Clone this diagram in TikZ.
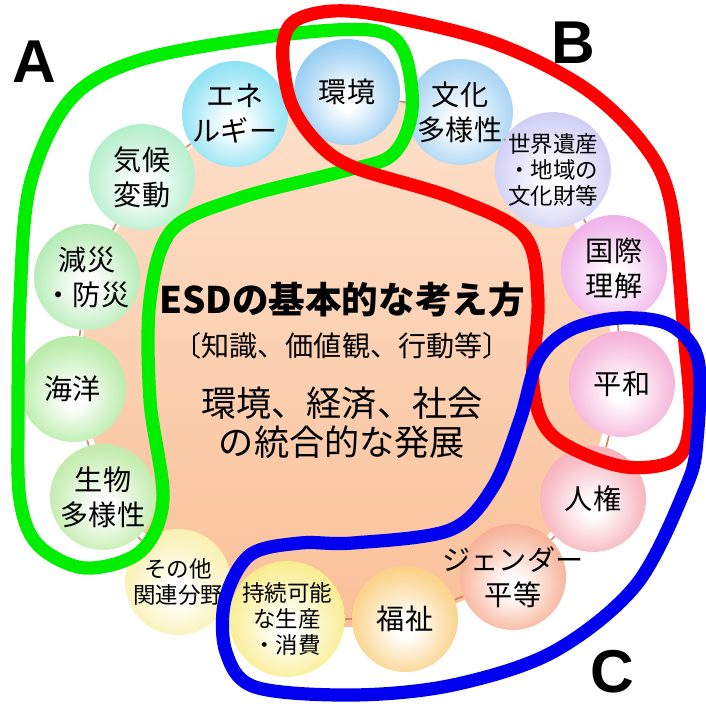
\documentclass[tikz,border=0pt]{standalone}
\usepackage{fontspec}
\setmainfont{Noto Sans CJK JP}
\newfontfamily\letterfont{Liberation Sans}
\usetikzlibrary{positioning}

\definecolor{peachtop}{HTML}{FDE0CA}
\definecolor{peachbot}{HTML}{FAC098}
\definecolor{ringcol}{HTML}{D08C68}
\definecolor{c_env}{HTML}{62B4EC}
\definecolor{c_culture}{HTML}{7CBEEE}
\definecolor{c_heritage}{HTML}{B8B8F0}
\definecolor{c_intl}{HTML}{E88CE0}
\definecolor{c_peace}{HTML}{F08CC4}
\definecolor{c_rights}{HTML}{F28C9A}
\definecolor{c_gender}{HTML}{F28C64}
\definecolor{c_welfare}{HTML}{F8BC4C}
\definecolor{c_sustain}{HTML}{F6E458}
\definecolor{c_other}{HTML}{F6EA8C}
\definecolor{c_bio}{HTML}{A4E284}
\definecolor{c_ocean}{HTML}{94E27C}
\definecolor{c_disaster}{HTML}{90E290}
\definecolor{c_climate}{HTML}{90E6B2}
\definecolor{c_energy}{HTML}{58D4EE}
\definecolor{loopgreen}{HTML}{00EE00}
\definecolor{loopred}{HTML}{FF0000}
\definecolor{loopblue}{HTML}{0000EE}

\colorlet{ballcol}{white}
\pgfdeclareradialshading[ballcol]{glow}{\pgfpoint{0bp}{-5bp}}{color(0bp)=(white); color(4bp)=(white); color(22bp)=(ballcol!55!white); color(40bp)=(ballcol); color(50bp)=(ballcol)}

\begin{document}
\begin{tikzpicture}[x=0.025cm,y=-0.025cm,on grid,
    field/.style={circle, minimum size=2.65cm, inner sep=0pt, align=center,
        /utils/exec={\colorlet{ballcol}{#1}}, shading=glow,
        font=\fontsize{20pt}{25pt}\selectfont},
    smallfield/.style={field=#1, font=\fontsize{16pt}{18.5pt}\selectfont},
    ring/.style={draw=ringcol, line width=1.2pt},
    bigline/.style={font=\fontsize{25pt}{28pt}\selectfont},
    letter/.style={font=\letterfont\bfseries\fontsize{43pt}{43pt}\selectfont},
    loop/.style={draw=#1, line width=0.33cm, line join=round}]
    \useasboundingbox (0,0) rectangle (706,704);

    % background disc
    \node[circle, minimum size=13.25cm, top color=peachtop, bottom color=peachbot] (disc) at (347,362) {};

    % fields around the disc
    \node[field=c_env] (env) at (347,92) {環境};
    \node[field=c_culture] (culture) at (460,112) {文化\\多様性};
    \node[smallfield=c_heritage] (heritage) at (553,170) {世界遺産\\・地域の\\文化財等};
    \node[field=c_intl] (intl) at (614,268) {国際\\理解};
    \node[field=c_peace] (peace) at (622,384) {平和};
    \node[field=c_rights] (rights) at (593,499) {人権};
    \node[field=c_gender] (gender) at (513,577) {\makebox[0pt]{ジェンダー}\\平等};
    \node[field=c_welfare] (welfare) at (405,619) {福祉};
    \node[smallfield=c_sustain] (sustain) at (287,619) {持続可能\\な生産\\・消費};
    \node[smallfield=c_other] (other) at (178,582) {その他\\\makebox[0pt]{関連分野}};
    \node[field=c_bio] (bio) at (103,497) {生物\\多様性};
    \node[field=c_ocean] (ocean) at (73,389) {海洋};
    \node[field=c_disaster] (disaster) at (87,277) {減災\\・防災};
    \node[field=c_climate] (climate) at (142,177) {気候\\変動};
    \node[field=c_energy] (energy) at (235,114) {エネ\\ルギー};

    \path[ring]
        (env) edge (culture)
        (culture) edge (heritage)
        (heritage) edge (intl)
        (intl) edge (peace)
        (peace) edge (rights)
        (rights) edge (gender)
        (gender) edge (welfare)
        (welfare) edge (sustain)
        (other) edge (bio)
        (bio) edge (ocean)
        (ocean) edge (disaster)
        (disaster) edge (climate)
        (climate) edge (energy)
        (energy) edge (env);

    % centre text
    \node[font=\fontsize{26pt}{30pt}\selectfont\bfseries] (title) at (342,300) {ESDの基本的な考え方};
    \node[font=\fontsize{20pt}{24pt}\selectfont] (aspects) [below=1.15cm of title] {〔知識、価値観、行動等〕};
    \node[bigline] (goal_1) [below=1.425cm of aspects] {環境、経済、社会};
    \node[bigline] (goal_2) [below=0.975cm of goal_1] {の統合的な発展};

    % groups
    \draw[loop=loopgreen] plot[smooth cycle, tension=0.55] coordinates {
        (18,420) (20,300) (30,185) (70,100) (140,60) (273,36) (370,30) (403,50)
        (412,110) (392,155) (340,172) (240,198) (172,230) (150,300) (150,400)
        (163,500) (140,552) (85,568) (38,545) (20,500)};
    \draw[loop=loopred] plot[smooth cycle, tension=0.55] coordinates {
        (283,45) (300,18) (360,12) (486,40) (580,85) (640,140) (670,200) (684,333)
        (690,420) (675,460) (620,466) (553,436) (533,385) (538,300) (524,235)
        (453,198) (353,167) (315,140) (290,100)};
    \draw[loop=loopblue] plot[smooth cycle, tension=0.55] coordinates {
        (538,360) (570,330) (620,318) (670,325) (698,360) (697,440) (686,487)
        (636,585) (553,652) (453,685) (353,695) (255,687) (226,652) (225,600)
        (250,555) (300,543) (353,543) (450,530) (493,487) (520,420)};

    \node[letter] (label_a) at (34,62) {A};
    \node[letter] (label_b) at (573,43) {B};
    \node[letter] (label_c) at (612,672) {C};
\end{tikzpicture}
\end{document}
